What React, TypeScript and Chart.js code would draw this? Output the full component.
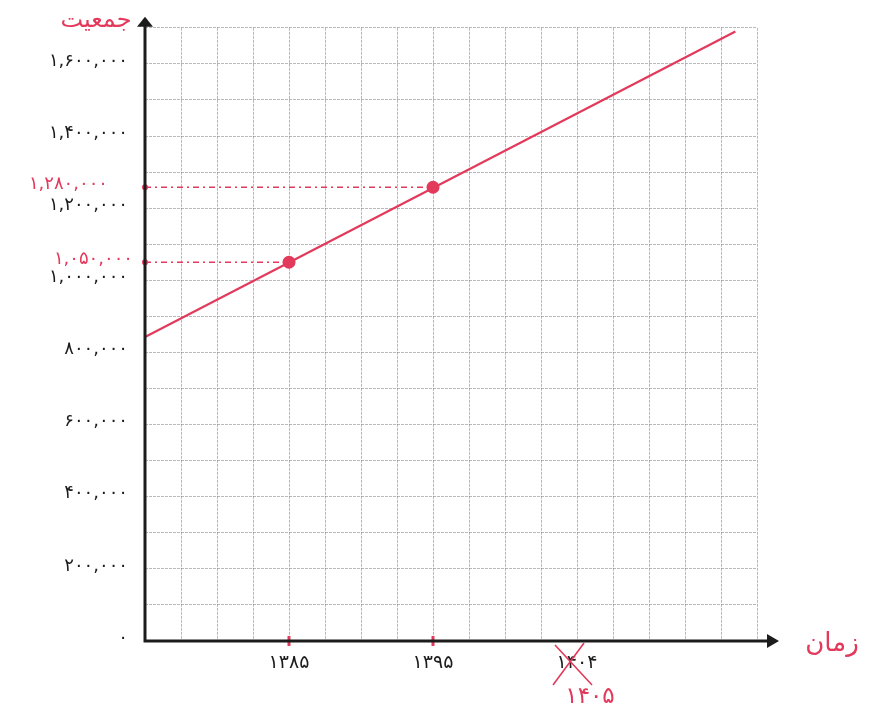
import React, { useEffect, useRef } from "react";
import { Chart, registerables } from "chart.js";

Chart.register(...registerables);

// ---- data ----
const xGridMin = 1375;
const xGridMax = 1417.5;
const xGridStep = 2.5;
const xTickValues = [1385, 1395, 1405];
const xTickLabels = ["۱۳۸۵", "۱۳۹۵", "۱۴۰۴"];
const correctedLabel = "۱۴۰۵";

const yGridMax = 1700000;
const yGridStep = 100000;
const yTickValues = [0, 200000, 400000, 600000, 800000, 1000000, 1200000, 1400000, 1600000];
const yTickLabels = ["۰", "۲۰۰,۰۰۰", "۴۰۰,۰۰۰", "۶۰۰,۰۰۰", "۸۰۰,۰۰۰", "۱,۰۰۰,۰۰۰", "۱,۲۰۰,۰۰۰", "۱,۴۰۰,۰۰۰", "۱,۶۰۰,۰۰۰"];

const pointYears = [1385, 1395];
const pointPopulation = [1050000, 1258000];
const pointLabels = ["۱,۰۵۰,۰۰۰", "۱,۲۸۰,۰۰۰"];

const trendYears = [1375, 1416];
const trendPopulation = [843000, 1690000];

const yTitle = "جمعیت";
const xTitle = "زمان";

const RED = "#e3395b";
const INK = "#1c1c1c";
const FONT = "'DejaVu Sans', sans-serif";

const decor = {
  id: "decor",
  beforeDraw(chart: any) {
    try {
      chart.ctx.letterSpacing = "1.5px";
    } catch (e) {}
  },
  afterDraw(chart: any) {
    const { ctx, chartArea, scales } = chart;
    const { left: L, right: R, top: T, bottom: B } = chartArea;
    const xs = scales.x;
    const ys = scales.y;
    ctx.save();
    // axes
    ctx.strokeStyle = INK;
    ctx.fillStyle = INK;
    ctx.lineWidth = 3;
    ctx.beginPath();
    ctx.moveTo(L, B + 1.5);
    ctx.lineTo(L, T - 4);
    ctx.moveTo(L - 1.5, B);
    ctx.lineTo(R + 12, B);
    ctx.stroke();
    // arrow heads
    ctx.beginPath();
    ctx.moveTo(L, T - 11);
    ctx.lineTo(L - 8, T - 1);
    ctx.lineTo(L + 8, T - 1);
    ctx.closePath();
    ctx.fill();
    ctx.beginPath();
    ctx.moveTo(R + 22, B);
    ctx.lineTo(R + 10, B - 7);
    ctx.lineTo(R + 10, B + 7);
    ctx.closePath();
    ctx.fill();

    // titles
    ctx.letterSpacing = "0px";
    ctx.fillStyle = RED;
    ctx.textAlign = "center";
    ctx.textBaseline = "middle";
    ctx.font = `24px ${FONT}`;
    ctx.fillText(yTitle, 96, 21);
    ctx.font = `26px ${FONT}`;
    ctx.fillText(xTitle, 832, B + 3);

    // annotation labels for the points
    ctx.letterSpacing = "1.5px";
    ctx.font = `18px ${FONT}`;
    ctx.textAlign = "right";
    const labelRight = [133, 108];
    pointPopulation.forEach((v, i) => {
      const py = ys.getPixelForValue(v);
      ctx.fillText(pointLabels[i], labelRight[i], py - 3);
    });

    // crossed-out year and correction
    const cx = xs.getPixelForValue(1405);
    ctx.strokeStyle = RED;
    ctx.lineWidth = 1.6;
    ctx.beginPath();
    ctx.moveTo(cx - 22, B + 4);
    ctx.lineTo(cx + 15, B + 44);
    ctx.moveTo(cx + 7, B + 2);
    ctx.lineTo(cx - 24, B + 44);
    ctx.stroke();
    ctx.textAlign = "center";
    ctx.font = `23px ${FONT}`;
    ctx.fillText(correctedLabel, cx + 13, B + 56);
    ctx.restore();
  },
};

export default function App() {
  const ref = useRef<HTMLCanvasElement>(null);
  useEffect(() => {
    if (!ref.current) return;
    const guideSets = pointYears.map((yr, i) => ({
      type: "scatter" as const,
      data: [
        { x: xGridMin, y: pointPopulation[i] },
        { x: yr, y: pointPopulation[i] },
      ],
      showLine: true,
      borderColor: RED,
      borderWidth: 1.3,
      borderDash: [6, 4, 2, 4],
      pointRadius: [3, 0],
      pointBackgroundColor: RED,
      pointBorderWidth: 0,
      clip: false as any,
      order: 3,
    }));
    const chart = new Chart(ref.current, {
      type: "scatter",
      data: {
        datasets: [
          {
            data: trendYears.map((x, i) => ({ x, y: trendPopulation[i] })),
            showLine: true,
            borderColor: RED,
            borderWidth: 2.2,
            pointRadius: 0,
            order: 2,
          },
          {
            data: pointYears.map((x, i) => ({ x, y: pointPopulation[i] })),
            showLine: false,
            pointRadius: 6.5,
            backgroundColor: RED,
            borderColor: RED,
            borderWidth: 0,
            order: 1,
          },
          {
            data: pointYears.map((x) => ({ x, y: 0 })),
            showLine: false,
            pointStyle: "line",
            rotation: 90,
            pointRadius: 5,
            borderColor: RED,
            borderWidth: 3,
            clip: false as any,
            order: 0,
          },
          ...guideSets,
        ] as any,
      },
      options: {
        animation: false,
        responsive: false,
        events: [],
        layout: { padding: { left: 0, top: 27, right: 113, bottom: 0 } },
        plugins: { legend: { display: false }, tooltip: { enabled: false } },
        scales: {
          x: {
            type: "linear",
            min: xGridMin,
            max: xGridMax,
            afterFit: (s: any) => {
              s.height = 75;
            },
            ticks: {
              stepSize: xGridStep,
              autoSkip: false,
              maxRotation: 0,
              padding: 11,
              color: INK,
              font: { family: "DejaVu Sans", size: 19 },
              callback: (v: any) => {
                const idx = xTickValues.indexOf(Number(v));
                return idx >= 0 ? xTickLabels[idx] : "";
              },
            },
            grid: { color: "rgba(100,100,100,0.45)", lineWidth: 1, drawTicks: false },
            border: { display: false, dash: [3, 1] },
          },
          y: {
            type: "linear",
            min: 0,
            max: yGridMax,
            afterFit: (s: any) => {
              s.width = 145;
            },
            ticks: {
              stepSize: yGridStep,
              autoSkip: false,
              padding: 17,
              labelOffset: -3,
              color: INK,
              font: { family: "DejaVu Sans", size: 18 },
              callback: (v: any) => {
                const idx = yTickValues.indexOf(Number(v));
                return idx >= 0 ? yTickLabels[idx] : "";
              },
            },
            grid: { color: "rgba(100,100,100,0.45)", lineWidth: 1, drawTicks: false },
            border: { display: false, dash: [3, 1] },
          },
        },
      },
      plugins: [decor],
    });
    return () => chart.destroy();
  }, []);
  return (
    <div style={{ position: "fixed", left: 0, top: 0, width: 870, height: 716, background: "#fff" }}>
      <canvas ref={ref} width={870} height={716} style={{ display: "block" }} />
    </div>
  );
}
